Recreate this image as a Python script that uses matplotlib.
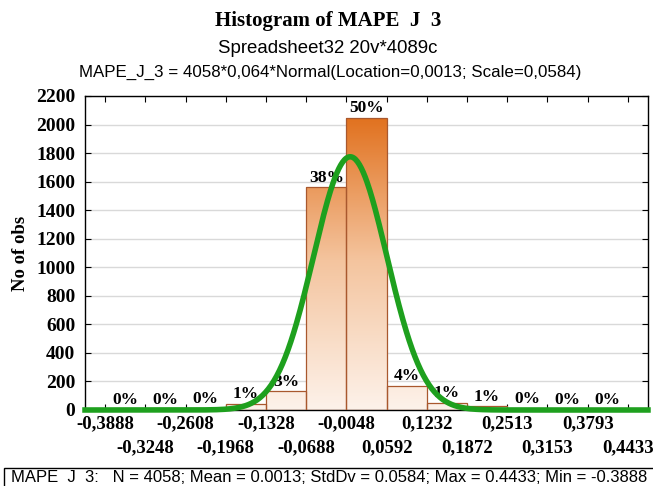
import numpy as np
import matplotlib
matplotlib.use("Agg")
import matplotlib.pyplot as plt
from matplotlib.colors import LinearSegmentedColormap
from matplotlib.patches import Rectangle

# histogram of MAPE_J_3, bin width 0.064
edges = [-0.3888, -0.3248, -0.2608, -0.1968, -0.1328, -0.0688, -0.0048,
         0.0592, 0.1232, 0.1872, 0.2513, 0.3153, 0.3793, 0.4433]
counts = [2, 4, 10, 45, 130, 1560, 2048, 170, 50, 25, 8, 4, 2]
n_obs = 4058
mean, std, width = 0.0013, 0.0584, 0.064

serif = "Liberation Serif"
sans = "Liberation Sans"

fig = plt.figure(figsize=(6.53, 4.86), dpi=100)
ax = fig.add_axes([0.1302, 0.1564, 0.8621, 0.6461])

cmap = LinearSegmentedColormap.from_list("peach", ["#fdf2ea", "#f4c49e", "#e06d18"])
grad = np.linspace(0, 1, 256).reshape(-1, 1)

lefts = np.array(edges[:-1])
bars = ax.bar(lefts, counts, width=width, align="edge",
              facecolor="none", edgecolor="#a9582e", linewidth=0.9, zorder=3)
for b in bars:
    h = b.get_height()
    if h <= 0:
        continue
    x0 = b.get_x()
    im = ax.imshow(grad, cmap=cmap, origin="lower", aspect="auto",
                   extent=(x0, x0 + width, 0, 2100), vmin=0, vmax=1, zorder=2)
    im.set_clip_path(b)

# percent labels above the bars
for x0, c in zip(lefts, counts):
    pct = int(round(c / n_obs * 100))
    ax.text(x0 + width / 2, c + 10, f"{pct}%", ha="center", va="bottom",
            fontsize=12.5, fontweight="bold", family=serif, zorder=4)

# fitted normal curve
xlo, xhi = edges[0] - width / 2, edges[-1] + width / 2
xs = np.linspace(xlo, xhi, 600)
ys = n_obs * width * np.exp(-0.5 * ((xs - mean) / std) ** 2) / (std * np.sqrt(2 * np.pi))
ax.plot(xs, ys, color="#1ea01e", linewidth=4, zorder=5, clip_on=False)

ax.set_xlim(xlo, xhi)
ax.set_ylim(0, 2200)
ax.set_yticks(np.arange(0, 2201, 200))
ax.yaxis.grid(True, color="#d9d9d9", linewidth=1)
ax.set_axisbelow(True)

# edge labels in two staggered rows
fmt = [f"{e:.4f}".replace(".", ",") for e in edges]
ax.set_xticks(edges[0::2])
ax.set_xticklabels(fmt[0::2])
ax.set_xticks(edges[1::2], minor=True)
ax.set_xticklabels(fmt[1::2], minor=True)
ax.tick_params(axis="both", which="both", direction="in", length=4, width=0.8,
               top=True, right=True)
ax.tick_params(axis="x", which="both", labelsize=13.5)
ax.tick_params(axis="x", which="major", pad=4)
ax.tick_params(axis="x", which="minor", pad=21)
ax.tick_params(axis="y", labelsize=14, pad=7)
for lab in (ax.get_xticklabels() + ax.get_xticklabels(minor=True)
            + ax.get_yticklabels()):
    lab.set_family(serif)
    lab.set_fontweight("bold")
for sp in ax.spines.values():
    sp.set_linewidth(1.0)

ax.set_ylabel("No of obs", fontsize=13.5, fontweight="bold", family=serif, labelpad=5)

fig.text(0.502, 0.956, "Histogram of MAPE  J  3", ha="center", va="center",
         fontsize=15, fontweight="bold", family=serif)
fig.text(0.502, 0.901, "Spreadsheet32 20v*4089c", ha="center", va="center",
         fontsize=13.4, family=sans)
fig.text(0.505, 0.850, "MAPE_J_3 = 4058*0,064*Normal(Location=0,0013; Scale=0,0584)",
         ha="center", va="center", fontsize=12.2, family=sans)

# summary strip along the bottom edge
fig.patches.append(Rectangle((0.006, -0.02), 1.1, 0.057, transform=fig.transFigure,
                             facecolor="white", edgecolor="black", linewidth=1.0))
fig.text(0.017, 0.017,
         "MAPE  J  3:   N = 4058; Mean = 0.0013; StdDv = 0.0584; Max = 0.4433; Min = -0.3888",
         ha="left", va="center", fontsize=12, family=sans)

fig.savefig("out.png", dpi=100)
